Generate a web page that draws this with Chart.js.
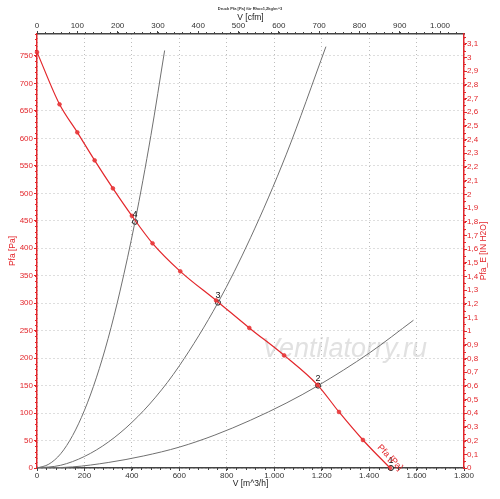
<!DOCTYPE html>
<html><head><meta charset="utf-8">
<script src="https://cdn.jsdelivr.net/npm/chart.js@4.4.1/dist/chart.umd.min.js"></script>
<style>html,body{margin:0;padding:0;background:#fff}#wrap{width:500px;height:499px}</style>
</head><body><div id="wrap"><canvas id="c"></canvas></div>
<script>
// ---- data ----
const fanQ = [0, 95, 170, 243, 320, 400, 487, 604, 755, 895, 1042, 1183, 1273, 1374, 1488];
const fanP = [757, 662, 611, 560, 509, 459, 409, 358, 305, 255, 205, 151, 102, 51, 0];

const sys4Q = [0, 50, 100, 150, 200, 250, 300, 350, 413, 480, 538];
const sys4P = [0, 7, 26, 59, 105, 164, 236, 322, 448, 605, 760];
const sys3Q = [0, 100, 200, 300, 400, 500, 600, 763, 900, 1050, 1218];
const sys3P = [0, 5, 21, 47, 83, 129, 186, 301, 419, 570, 767];
const sys2Q = [0, 150, 300, 450, 600, 750, 900, 1050, 1185, 1400, 1587];
const sys2P = [0, 2, 10, 22, 38, 60, 87, 118, 150, 209, 269];

const opQ = [1492, 1185, 763, 413];
const opP = [0, 150, 301, 448];
const opLabels = ['1', '2', '3', '4'];

const xTicks = [0, 200, 400, 600, 800, 1000, 1200, 1400, 1600, 1800];
const cfmTicks = [0, 100, 200, 300, 400, 500, 600, 700, 800, 900, 1000];
const paTicks = [0, 50, 100, 150, 200, 250, 300, 350, 400, 450, 500, 550, 600, 650, 700, 750];
const inTicks = [0, 0.1, 0.2, 0.3, 0.4, 0.5, 0.6, 0.7, 0.8, 0.9, 1, 1.1, 1.2, 1.3, 1.4, 1.5, 1.6, 1.7, 1.8, 1.9, 2, 2.1, 2.2, 2.3, 2.4, 2.5, 2.6, 2.7, 2.8, 2.9, 3, 3.1];

const titleText = 'Druck Pfa [Pa] für Rho=1,2kg/m^3';
const xTitle = 'V [m^3/h]';
const x2Title = 'V [cfm]';
const yTitle = 'Pfa [Pa]';
const y2Title = 'Pfa_E [IN H2O]';
const curveLabel = 'Pfa [Pa]';
const watermark = 'Ventilatorry.ru';

// ---- constants ----
const X_MAX = 1800, Y_MAX = 790;
const M3H_PER_CFM = 1.69901, PA_PER_INH2O = 249.089;
const RED = '#e3262b', DARK = '#444';
const FONT = '"Liberation Sans", Arial, sans-serif';

const pts = (xs, ys) => xs.map((x, i) => ({x: x, y: ys[i]}));
const fmtK = v => String(Math.round(v)).replace(/\B(?=(\d{3})+(?!\d))/g, '.');
const fmtD = v => (Math.round(v * 10) / 10).toString().replace('.', ',');
const setTicks = arr => s => { s.ticks = arr.map(v => ({value: v})); };

const minorTicks = {
  id: 'minorTicks',
  afterDraw(chart) {
    const ctx = chart.ctx;
    const defs = [
      {id: 'x', step: 40, color: DARK},
      {id: 'x2', step: 20, color: DARK},
      {id: 'y', step: 10, color: RED},
      {id: 'y2', step: 0.05, color: RED}
    ];
    ctx.save();
    ctx.lineWidth = 1;
    defs.forEach(d => {
      const s = chart.scales[d.id];
      ctx.strokeStyle = d.color;
      ctx.beginPath();
      for (let v = s.min; v <= s.max + 1e-9; v += d.step) {
        const p = Math.round(s.getPixelForValue(v)) + 0.5;
        if (d.id === 'x') { ctx.moveTo(p, s.top); ctx.lineTo(p, s.top + 2); }
        else if (d.id === 'x2') { ctx.moveTo(p, s.bottom); ctx.lineTo(p, s.bottom - 2); }
        else if (d.id === 'y') { ctx.moveTo(s.right, p); ctx.lineTo(s.right - 2, p); }
        else { ctx.moveTo(s.left, p); ctx.lineTo(s.left + 2, p); }
      }
      ctx.stroke();
    });
    ctx.restore();
  }
};

const decor = {
  id: 'decor',
  beforeDatasetsDraw(chart) {
    const ctx = chart.ctx, a = chart.chartArea;
    ctx.save();
    ctx.font = 'italic 27px ' + FONT;
    ctx.fillStyle = 'rgba(200,200,200,0.55)';
    ctx.textAlign = 'left';
    ctx.textBaseline = 'alphabetic';
    ctx.fillText(watermark, a.left + 225, a.top + 323);
    ctx.restore();
  },
  afterDatasetsDraw(chart) {
    const ctx = chart.ctx, a = chart.chartArea;
    const xs = chart.scales.x, ys = chart.scales.y;
    ctx.save();
    // operating point labels
    ctx.font = '9px ' + FONT;
    ctx.fillStyle = '#111';
    ctx.textAlign = 'center';
    ctx.textBaseline = 'middle';
    opQ.forEach((q, i) => {
      ctx.fillText(opLabels[i], xs.getPixelForValue(q), ys.getPixelForValue(opP[i]) - 7);
    });
    // curve label
    ctx.translate(xs.getPixelForValue(1488), ys.getPixelForValue(19));
    ctx.rotate(46 * Math.PI / 180);
    ctx.fillStyle = RED;
    ctx.font = '9px ' + FONT;
    ctx.fillText(curveLabel, 0, 0);
    ctx.restore();
    // right axis title
    ctx.save();
    ctx.translate(a.right + 20, (a.top + a.bottom) / 2);
    ctx.rotate(-Math.PI / 2);
    ctx.font = '8.5px ' + FONT;
    ctx.fillStyle = RED;
    ctx.textAlign = 'center';
    ctx.textBaseline = 'middle';
    ctx.fillText(y2Title, 0, 0);
    ctx.restore();
  }
};

const tickFont = {family: FONT, size: 8};
const titleFont = {family: FONT, size: 8.5};

new Chart(document.getElementById('c'), {
  type: 'line',
  data: {
    datasets: [
      {data: pts(fanQ, fanP), borderColor: RED, borderWidth: 1.2, pointRadius: 1.9, pointBorderWidth: 0.6,
       pointBackgroundColor: 'rgba(235,60,60,0.9)', pointBorderColor: RED, cubicInterpolationMode: 'monotone', clip: false,
       xAxisID: 'x', yAxisID: 'y'},
      {data: pts(sys4Q, sys4P), borderColor: '#707070', borderWidth: 1, pointRadius: 0, cubicInterpolationMode: 'monotone', xAxisID: 'x', yAxisID: 'y'},
      {data: pts(sys3Q, sys3P), borderColor: '#707070', borderWidth: 1, pointRadius: 0, cubicInterpolationMode: 'monotone', xAxisID: 'x', yAxisID: 'y'},
      {data: pts(sys2Q, sys2P), borderColor: '#707070', borderWidth: 1, pointRadius: 0, cubicInterpolationMode: 'monotone', xAxisID: 'x', yAxisID: 'y'},
      {data: pts(opQ, opP), showLine: false, pointRadius: 2.5, pointBorderWidth: 1, pointBackgroundColor: '#fff',
       pointBorderColor: '#111', clip: false, xAxisID: 'x', yAxisID: 'y'}
    ]
  },
  options: {
    responsive: true, maintainAspectRatio: false, animation: false, events: [],
    layout: {padding: 0},
    plugins: {
      legend: {display: false}, tooltip: {enabled: false},
      title: {display: true, text: titleText, color: '#333', font: {family: FONT, size: 4}, padding: {top: 6, bottom: 0}}
    },
    scales: {
      x: {type: 'linear', position: 'bottom', min: 0, max: X_MAX, afterBuildTicks: setTicks(xTicks),
          ticks: {callback: fmtK, font: tickFont, color: '#333', padding: 0, maxRotation: 0, autoSkip: false},
          grid: {color: '#bdbdbd', lineWidth: 1, tickLength: 3, tickColor: DARK},
          border: {dash: [1, 3], color: DARK, width: 1.5},
          title: {display: true, text: xTitle, font: titleFont, color: '#222', padding: {top: 0, bottom: 10.5}},
          afterFit: s => { s.height = 31; }},
      x2: {type: 'linear', position: 'top', min: 0, max: X_MAX / M3H_PER_CFM, afterBuildTicks: setTicks(cfmTicks),
          ticks: {callback: fmtK, font: tickFont, color: '#333', padding: 0, maxRotation: 0, autoSkip: false},
          grid: {drawOnChartArea: false, tickLength: 3, tickColor: DARK},
          border: {color: DARK, width: 1.5},
          title: {display: true, text: x2Title, font: titleFont, color: '#222', padding: {top: 2, bottom: 0}},
          afterFit: s => { s.height = 23.2; }},
      y: {type: 'linear', position: 'left', min: 0, max: Y_MAX, afterBuildTicks: setTicks(paTicks),
          ticks: {font: tickFont, color: RED, padding: 1, autoSkip: false},
          grid: {color: '#bdbdbd', lineWidth: 1, tickLength: 3, tickColor: RED},
          border: {dash: [1, 3], color: RED, width: 1.5},
          title: {display: true, text: yTitle, font: titleFont, color: RED, padding: {top: 7.9, bottom: 0}},
          afterFit: s => { s.width = 37; }},
      y2: {type: 'linear', position: 'right', min: 0, max: Y_MAX / PA_PER_INH2O, afterBuildTicks: setTicks(inTicks),
          ticks: {callback: fmtD, font: tickFont, color: RED, padding: 0, autoSkip: false},
          grid: {drawOnChartArea: false, tickLength: 3, tickColor: RED},
          border: {color: RED, width: 1.5},
          afterFit: s => { s.width = 36; }}
    }
  },
  plugins: [minorTicks, decor]
});
</script>
</body></html>
